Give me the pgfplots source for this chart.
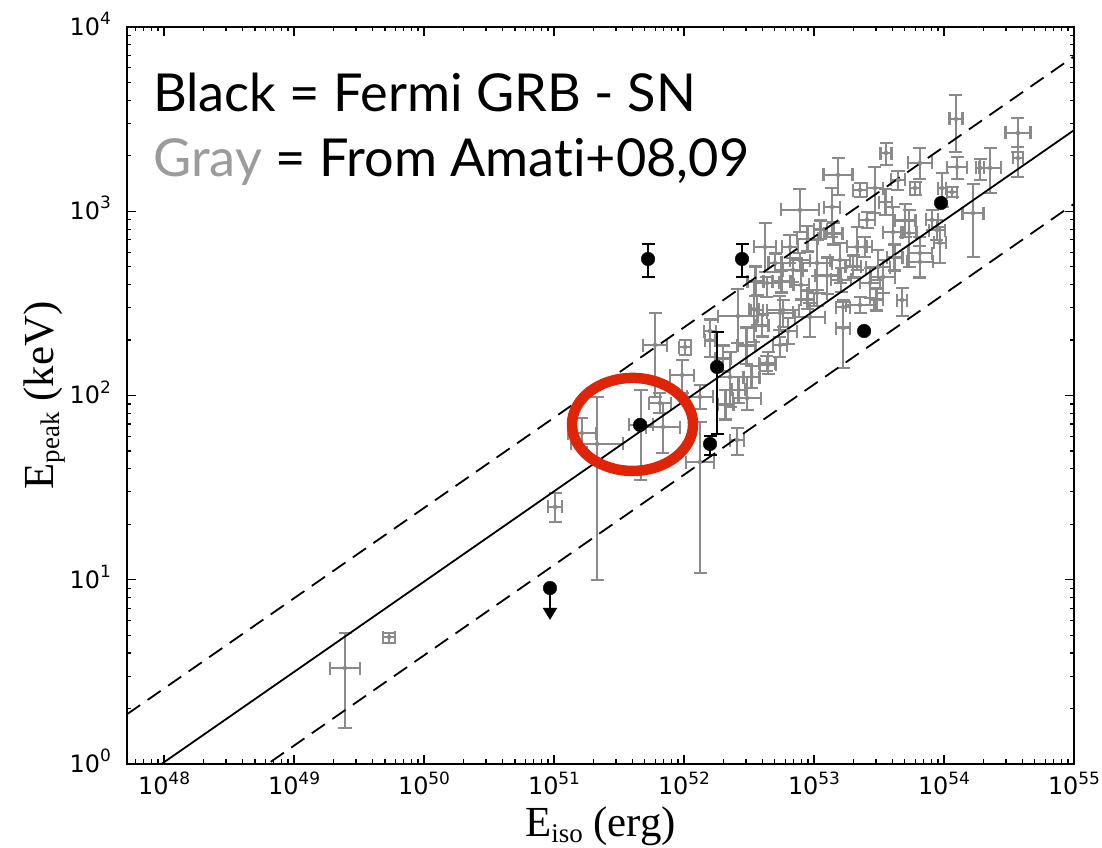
\documentclass[border=0pt]{standalone}
\usepackage{pgfplots}
\pgfplotsset{compat=1.18}
\usepackage{fontspec}
\usetikzlibrary{arrows.meta}
\newfontfamily\tickfont{DejaVu Sans}
\newfontfamily\labelfont{Liberation Serif}
\newfontfamily\annofont[Ligatures={NoCommon}]{Lato}
\definecolor{errgray}{RGB}{138,138,138}
\definecolor{textgray}{RGB}{155,155,155}
\definecolor{ellred}{RGB}{224,36,8}
\newcommand\tl[1]{10\raisebox{0.45em}{\fontsize{17}{17}\selectfont #1}}
\begin{document}
\begin{tikzpicture}
\useasboundingbox (-127bp,-84bp) rectangle (975bp,764bp);
\begin{axis}[
  at={(0,0)}, anchor=south west,
  scale only axis, width=947bp, height=737bp,
  xmin=47.715, xmax=55, ymin=0, ymax=4,
  axis line style={line width=1.8bp},
  tick style={line width=1.2bp, black},
  tick align=inside,
  major tick length=9bp, minor tick length=4.5bp,
  xtick pos=both, ytick pos=both, xticklabel pos=lower, yticklabel pos=left,
  xtick={48,49,50,51,52,53,54,55}, ytick={0,1,2,3,4},
  xticklabels={\tl{48},\tl{49},\tl{50},\tl{51},\tl{52},\tl{53},\tl{54},\tl{55}},
  yticklabels={\tl{0},\tl{1},\tl{2},\tl{3},\tl{4}},
  minor xtick={47.778,47.845,47.903,47.954,
    48.301,48.477,48.602,48.699,48.778,48.845,48.903,48.954,
    49.301,49.477,49.602,49.699,49.778,49.845,49.903,49.954,
    50.301,50.477,50.602,50.699,50.778,50.845,50.903,50.954,
    51.301,51.477,51.602,51.699,51.778,51.845,51.903,51.954,
    52.301,52.477,52.602,52.699,52.778,52.845,52.903,52.954,
    53.301,53.477,53.602,53.699,53.778,53.845,53.903,53.954,
    54.301,54.477,54.602,54.699,54.778,54.845,54.903,54.954},
  minor ytick={0.301,0.477,0.602,0.699,0.778,0.845,0.903,0.954,
    1.301,1.477,1.602,1.699,1.778,1.845,1.903,1.954,
    2.301,2.477,2.602,2.699,2.778,2.845,2.903,2.954,
    3.301,3.477,3.602,3.699,3.778,3.845,3.903,3.954},
  ticklabel style={font=\tickfont\fontsize{24}{24}\selectfont, inner sep=0pt},
  xticklabel style={anchor=base, yshift=-31bp},
  yticklabel style={anchor=base east, xshift=-16bp, yshift=-8.5bp},
  xlabel={E\raisebox{-0.13em}{\fontsize{27}{27}\selectfont iso} (erg)},
  ylabel={E\raisebox{-0.15em}{\fontsize{27}{27}\selectfont peak} (keV)},
  label style={font=\labelfont\fontsize{43}{43}\selectfont, inner sep=0pt},
  xlabel style={at={(axis description cs:0.5,-0.0985)}, anchor=base},
  ylabel style={at={(axis description cs:-0.0781,0.5)}, anchor=base},
]
% gray points (Amati+08,09), log10 units
\addplot[only marks, mark=none, errgray,
  error bars/.cd, x dir=both, x explicit, y dir=both, y explicit,
  error bar style={line width=2.6bp, errgray},
  error mark options={rotate=90, line width=2.6bp, mark size=6.5bp, errgray}]
  table[x=x, y=y, x error=ex, y error plus=ep, y error minus=em] {
x y ex ep em
54.092 3.501 0.052 0.130 0.179
54.569 3.425 0.098 0.081 0.103
54.569 3.289 0.038 0.060 0.103
53.554 3.316 0.042 0.054 0.065
53.815 3.262 0.092 0.081 0.087
54.100 3.240 0.077 0.054 0.065
54.277 3.235 0.031 0.049 0.065
54.354 3.235 0.085 0.109 0.136
53.646 3.170 0.054 0.049 0.054
53.469 3.126 0.062 0.114 0.136
53.777 3.126 0.038 0.033 0.038
53.985 3.126 0.031 0.081 0.103
54.062 3.104 0.038 0.027 0.027
54.223 2.990 0.082 0.157 0.239
53.608 2.887 0.077 0.136 0.136
53.731 2.882 0.058 0.125 0.185
53.908 2.953 0.046 0.054 0.054
53.946 2.898 0.062 0.054 0.054
53.969 2.828 0.046 0.087 0.109
53.815 2.773 0.092 0.087 0.130
53.408 2.953 0.062 0.043 0.043
53.392 2.806 0.054 0.054 0.054
53.492 2.697 0.092 0.092 0.071
53.185 3.197 0.113 0.092 0.109
52.892 3.007 0.146 0.114 0.119
52.623 2.806 0.085 0.130 0.136
53.138 3.023 0.062 0.103 0.163
53.354 3.115 0.054 0.038 0.038
52.815 2.806 0.062 0.065 0.087
52.892 2.735 0.077 0.038 0.054
53.023 2.719 0.115 0.125 0.147
53.200 2.735 0.077 0.092 0.125
53.331 2.806 0.077 0.109 0.125
52.638 2.611 0.092 0.033 0.076
52.415 2.431 0.154 0.147 0.147
52.762 2.464 0.123 0.054 0.092
53.023 2.556 0.077 0.092 0.071
53.223 2.480 0.054 0.038 0.109
53.354 2.491 0.108 0.043 0.043
53.223 2.366 0.054 0.141 0.217
53.677 2.518 0.038 0.065 0.087
53.531 2.643 0.092 0.092 0.087
53.815 2.725 0.100 0.087 0.087
52.969 2.426 0.115 0.076 0.109
52.738 2.448 0.100 0.092 0.092
52.738 2.274 0.054 0.043 0.065
52.638 2.176 0.062 0.038 0.043
52.838 2.681 0.077 0.065 0.065
53.431 2.611 0.077 0.081 0.081
51.777 2.274 0.092 0.174 0.282
51.331 1.737 0.200 0.255 0.738
51.215 1.796 0.108 0.081 0.076
51.669 1.840 0.092 0.190 0.299
51.838 1.829 0.131 0.130 0.141
52.123 1.639 0.108 0.217 0.602
52.008 2.263 0.046 0.038 0.043
51.985 2.111 0.092 0.081 0.098
52.200 2.301 0.038 0.109 0.092
52.354 2.100 0.100 0.136 0.163
52.485 1.986 0.108 0.114 0.065
52.646 2.166 0.062 0.071 0.049
52.408 1.758 0.054 0.065 0.081
52.123 1.992 0.100 0.065 0.065
52.562 2.464 0.046 0.081 0.081
51.008 1.395 0.054 0.076 0.081
49.392 0.521 0.115 0.190 0.326
49.731 0.689 0.046 0.022 0.033
52.538 2.469 0.038 0.147 0.179
53.208 2.627 0.077 0.065 0.065
52.200 2.350 0.046 0.065 0.054
51.815 1.959 0.085 0.054 0.054
52.750 2.620 0.070 0.060 0.060
52.900 2.600 0.060 0.080 0.080
52.950 2.850 0.080 0.070 0.070
53.050 2.900 0.050 0.050 0.050
53.100 2.650 0.090 0.100 0.100
52.700 2.720 0.050 0.050 0.050
52.550 2.620 0.060 0.080 0.080
52.950 2.520 0.050 0.050 0.050
53.300 2.700 0.060 0.060 0.060
53.150 2.880 0.070 0.060 0.060
52.800 2.350 0.070 0.070 0.070
52.480 2.270 0.070 0.100 0.100
52.600 2.380 0.050 0.060 0.060
53.480 2.520 0.050 0.060 0.060
53.620 2.750 0.060 0.070 0.070
53.700 2.950 0.080 0.090 0.090
53.550 3.050 0.050 0.070 0.070
52.420 2.030 0.050 0.070 0.070
52.320 1.950 0.060 0.080 0.080
52.520 2.100 0.060 0.060 0.060
52.300 2.200 0.060 0.070 0.070
};
% relation and scatter lines
\addplot[black, line width=1.8bp, no marks] coordinates {(47.715,-0.130) (55,3.440)};
\addplot[black, line width=1.8bp, no marks, dash pattern=on 16bp off 9bp] coordinates {(47.715,0.270) (55,3.840)};
\addplot[black, line width=1.8bp, no marks, dash pattern=on 16bp off 9bp] coordinates {(47.715,-0.530) (55,3.040)};
% Fermi GRB-SN (black)
\addplot[black, line width=2.2bp, -{Triangle[width=14bp,length=12bp]}, quiver={u=0, v=-0.173}] coordinates {(50.969,0.955)};
\addplot[only marks, mark=*, mark size=6.8bp, black,
  error bars/.cd, y dir=both, y explicit,
  error bar style={line width=2.2bp, black},
  error mark options={rotate=90, line width=2.2bp, mark size=6.5bp, black}]
  table[x=x, y=y, y error plus=ep, y error minus=em] {
x y ep em
51.723 2.741 0.080 0.100
52.446 2.741 0.080 0.100
52.254 2.155 0.190 0.364
52.200 1.737 0.043 0.060
};
\addplot[only marks, mark=*, mark size=6.8bp, black] coordinates {
(51.662,1.840) (53.385,2.350) (53.977,3.045) (50.969,0.955)};
\draw[ellred, line width=10.5bp] (axis cs:51.604,1.843) ellipse [x radius=60.5bp, y radius=46.5bp];
\node[anchor=base west, inner sep=0pt, font=\annofont\fontsize{52.5}{52.5}\selectfont] at (rel axis cs:0.0275,0.8847) {Black = Fermi GRB - SN};
\node[anchor=base west, inner sep=0pt, font=\annofont\fontsize{52.5}{52.5}\selectfont] at (rel axis cs:0.0275,0.7978) {\textcolor{textgray}{Gray} = From Amati+08,09};
\end{axis}
\end{tikzpicture}
\end{document}
